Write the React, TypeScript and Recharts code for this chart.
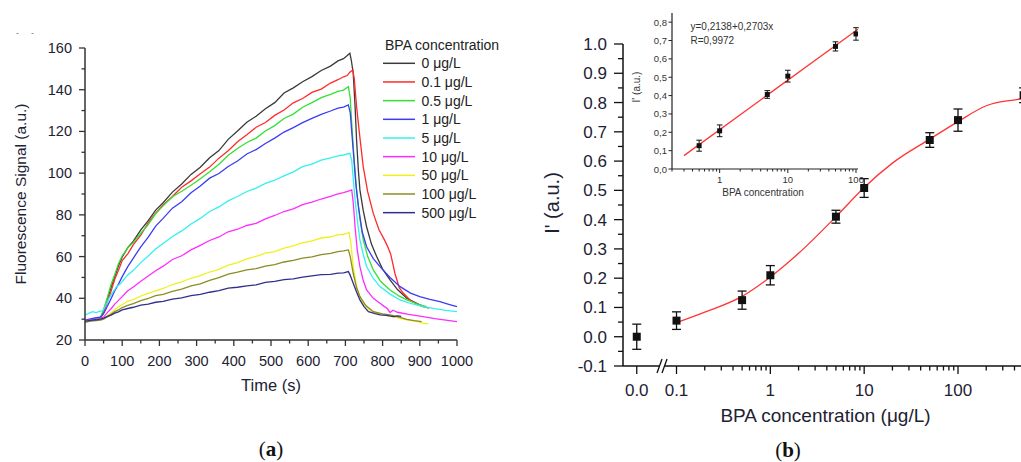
import React from 'react';
import { LineChart, Line, XAxis, YAxis, ComposedChart, Scatter, ErrorBar, ZAxis } from 'recharts';

const FONT = '"Liberation Sans", Arial, Helvetica, sans-serif';
const AXIS = '#333333';
const INK = '#1d2233';

// (a) fluorescence kinetics: [time (s), signal (a.u.)]
const S_0: [number, number][] = [[0,29.2],[15,29.6],[30,30.4],[42,30.6],[50,34],[60,39.5],[70,45.2],[80,50.4],[90,55.6],[100,59.8],[115,64.3],[130,67.4],[150,72.8],[170,77.2],[190,82.3],[210,85.8],[235,90.9],[260,94.8],[285,99.4],[310,102.8],[335,107.4],[360,110.8],[385,116.2],[410,120.2],[435,124.4],[460,127.3],[485,130.9],[510,133.8],[535,138.4],[560,140.9],[585,143.8],[610,146.3],[635,149.2],[660,151.3],[680,153.8],[695,154.9],[705,156.4],[712,157.5],[716,154],[721,147.9],[726,132],[730,116],[735,101],[739,92],[748,82],[757,74.3],[770,66],[784,60],[800,54],[820,48.8],[840,44.2],[865,40],[885,38.2],[909,36]];
const S_01: [number, number][] = [[0,28.8],[15,29.3],[30,29.9],[42,30.7],[50,33],[60,38.2],[70,43.4],[80,49.1],[90,53.4],[100,58.1],[115,61.3],[130,65.7],[150,70.3],[170,76.2],[190,80.8],[210,84.7],[235,88.8],[260,93.2],[285,96.3],[310,99.7],[335,102.9],[360,107.2],[385,110.7],[410,115],[435,118.4],[460,122],[485,124.3],[510,127.7],[535,130.3],[560,133.7],[585,135.8],[610,138.7],[635,140.3],[660,143.2],[680,144.8],[695,146.2],[705,146.8],[712,148.4],[720,149.5],[724,145],[730,132],[739,117],[748,103],[760,91],[775,80.7],[790,73],[805,68],[815,64.2],[822,61],[833,52],[845,45],[856,42.4],[875,39],[890,37.5],[909,36],[925,35.3]];
const S_05: [number, number][] = [[0,29],[15,29.5],[30,30.4],[42,31.1],[50,34.6],[60,40.3],[70,46.6],[80,51.4],[90,56.6],[100,60.4],[115,64.2],[130,66.8],[150,71.2],[170,75.3],[190,80.6],[210,84.3],[235,88.7],[260,91.3],[285,94.2],[310,97.3],[335,100.7],[360,104.3],[385,108.6],[410,111.8],[435,114.7],[460,116.8],[485,120.2],[510,122.8],[535,126.2],[560,128.3],[585,131.6],[610,133.8],[635,136.2],[660,137.8],[680,139.2],[695,139.8],[708,141.5],[713,136],[717,123.9],[723,108],[730,92],[739,78],[748,68],[760,60],[775,53.6],[795,48],[820,44],[845,41],[865,39.2],[890,37.5],[918,36]];
const S_1: [number, number][] = [[0,29.5],[15,30.1],[30,30.7],[42,31],[50,32.6],[60,36.2],[70,39.8],[80,43.6],[90,46.8],[100,50.4],[115,55.2],[130,59.3],[150,64.6],[170,69.3],[190,74.6],[210,78.3],[235,83.2],[260,86.3],[285,90.6],[310,93.8],[335,97.6],[360,99.8],[385,103.2],[410,105.8],[435,109.2],[460,111.3],[485,114.2],[510,116.8],[535,119.7],[560,121.8],[585,124.2],[610,126.3],[635,128.2],[660,129.8],[680,131.2],[695,131.7],[708,132.7],[713,129],[721,111],[728,95],[735,84],[745,72],[757,64.7],[775,59],[793,55.2],[820,50],[847,45.6],[875,42.5],[900,40.8],[927,39.5],[954,38.4],[980,37],[1000,36]];
const S_5: [number, number][] = [[0,32],[10,32.8],[20,33.6],[30,33.1],[40,33.8],[48,34],[55,36.4],[65,40.1],[75,43],[85,45.6],[95,46.9],[100,48],[115,51.2],[130,53.4],[150,57.1],[170,60.3],[190,63.6],[210,66.3],[235,69.6],[260,72.3],[285,75.6],[310,78.3],[335,81.6],[360,83.8],[385,86.7],[410,88.8],[435,91.2],[460,92.8],[485,95.1],[510,96.6],[535,98.7],[560,100.6],[585,103.1],[610,104.3],[635,106.2],[660,107.3],[680,108.3],[695,108.7],[712,109.5],[717,106],[726,87.1],[733,76],[739,68],[748,61],[757,55.2],[775,49.5],[793,45.6],[820,42],[847,39.2],[875,37.5],[909,36],[940,35],[970,34.2],[1000,33.6]];
const S_10: [number, number][] = [[0,29.2],[15,29.6],[30,29.9],[42,30.3],[50,31],[60,33.1],[70,35],[80,37.2],[90,39],[100,40.8],[115,43.6],[130,45.4],[150,48.2],[170,50.7],[190,53.2],[210,55.4],[235,58.6],[260,60.4],[285,63.2],[310,65.4],[335,67.7],[360,69.4],[385,71.9],[410,73.1],[435,74.9],[460,75.9],[485,78.1],[510,79.7],[535,81.6],[560,82.9],[585,84.9],[610,86.1],[635,87.6],[660,88.9],[680,90.1],[695,90.7],[710,91.5],[717,92],[721,86],[726,74.3],[732,63],[739,55.2],[748,48.5],[757,44],[775,40],[793,37.6],[805,36],[812,35.2],[820,33.2],[828,34.3],[840,33.3],[870,32.3],[909,31.2],[940,30.2],[970,29.5],[1000,28.8]];
const S_50: [number, number][] = [[0,29],[15,29.3],[30,29.4],[42,29.9],[50,30.3],[60,31.6],[70,33],[80,34.6],[90,35.9],[100,37],[115,38.6],[130,39.4],[150,41.1],[170,42.4],[190,43.6],[210,44.7],[235,46.6],[260,47.9],[285,49.6],[310,50.9],[335,52.6],[360,53.9],[385,55.9],[410,57.1],[435,58.9],[460,60.1],[485,61.6],[510,62.4],[535,64.1],[560,65.1],[585,66.6],[610,67.5],[635,68.9],[660,69.5],[680,70.4],[695,70.7],[710,71.5],[715,66],[721,55.2],[730,46],[739,40.8],[750,37],[766,34.4],[785,33],[802,32],[830,31],[865,29.6],[895,28.8],[910,28],[923,27.7]];
const S_100: [number, number][] = [[0,28.5],[15,29],[30,29.3],[42,29.5],[50,30],[60,31.1],[70,32.3],[80,33.6],[90,34.4],[100,35.5],[115,36.6],[130,37.4],[150,38.9],[170,39.9],[190,41.3],[210,41.9],[235,43.3],[260,44.4],[285,45.9],[310,46.9],[335,48.6],[360,49.9],[385,51.6],[410,52.5],[435,53.6],[460,54.2],[485,55.4],[510,56.1],[535,57.4],[560,58.2],[585,59.3],[610,59.9],[635,60.9],[660,61.5],[680,62.4],[695,62.7],[708,63.2],[713,60],[721,52],[730,45],[739,40.8],[755,36.5],[775,33.6],[800,32.5],[820,32],[845,31],[865,29.9],[885,29.3],[905,28.8]];
const S_500: [number, number][] = [[0,29],[15,29.4],[30,29.7],[42,30],[50,30.5],[60,31.3],[70,31.9],[80,32.9],[90,33.5],[100,34.4],[115,35.1],[130,35.7],[150,36.7],[170,37.2],[190,38.1],[210,38.5],[235,39.6],[260,40.2],[285,41.3],[310,41.9],[335,42.9],[360,43.7],[385,44.9],[410,45.3],[435,46],[460,46.4],[485,47.6],[510,48.1],[535,48.9],[560,49.3],[585,50.1],[610,50.7],[635,51.3],[660,51.5],[680,52.1],[695,52.2],[708,52.8],[713,51],[721,47.2],[730,43],[739,39.2],[750,36],[762,33.6],[780,32.6],[793,32],[810,31.8],[829,31.2],[840,31.6],[850,31.3]];

const CURVES = [S_0, S_01, S_05, S_1, S_5, S_10, S_50, S_100, S_500];
const LEGEND = ['0 μg/L', '0.1 μg/L', '0.5 μg/L', '1 μg/L', '5 μg/L', '10 μg/L', '50 μg/L', '100 μg/L', '500 μg/L'];
const COLORS = ['#3a3a3a', '#ff2a2a', '#33e033', '#3c3cf5', '#33f0f0', '#ff2cff', '#f0f020', '#8c8c22', '#30308c'];

const TIME_TICKS = [0, 50, 100, 150, 200, 250, 300, 350, 400, 450, 500, 550, 600, 650, 700, 750, 800, 850, 900, 950, 1000];
const SIGNAL_TICKS = [20, 30, 40, 50, 60, 70, 80, 90, 100, 110, 120, 130, 140, 150, 160];

// (b) calibration: BPA concentration (μg/L) vs I'
const CONC = [0, 0.1, 0.5, 1, 5, 10, 50, 100, 500];
const SIGNAL = [0.0, 0.055, 0.125, 0.21, 0.41, 0.508, 0.672, 0.74, 0.825];
const SIGNAL_ERR = [0.043, 0.03, 0.031, 0.033, 0.022, 0.032, 0.025, 0.038, 0.025];
const FIT_CONC = [0.1, 0.2, 0.5, 1, 2, 5, 10, 20, 50, 100, 200, 500, 750];
const FIT_SIGNAL = [0.048, 0.084, 0.138, 0.204, 0.285, 0.41, 0.51, 0.593, 0.675, 0.735, 0.789, 0.815, 0.83];

const CONC_MAJOR = [0.1, 1, 10, 100];
const CONC_MINOR = [0.2, 0.3, 0.4, 0.5, 0.6, 0.7, 0.8, 0.9, 2, 3, 4, 5, 6, 7, 8, 9, 20, 30, 40, 50, 60, 70, 80, 90, 200, 300, 400, 500, 600, 700];
const I_TICKS = [-0.1, 0, 0.1, 0.2, 0.3, 0.4, 0.5, 0.6, 0.7, 0.8, 0.9, 1.0];
const I_MINOR = [-0.05, 0.05, 0.15, 0.25, 0.35, 0.45, 0.55, 0.65, 0.75, 0.85, 0.95];

// inset: linear fit on log scale
const INSET_CONC = [0.5, 1, 5, 10, 50, 100];
const INSET_SIGNAL = [0.127, 0.208, 0.406, 0.506, 0.668, 0.736];
const INSET_ERR = [0.03, 0.032, 0.021, 0.032, 0.025, 0.034];
const INSET_FIT_CONC = [0.3, 107];
const INSET_FIT_SIGNAL = [0.073, 0.762];
const INSET_X_MAJOR = [1, 10, 100];
const INSET_X_MINOR = [0.2, 0.3, 0.4, 0.5, 0.6, 0.7, 0.8, 0.9, 2, 3, 4, 5, 6, 7, 8, 9, 20, 30, 40, 50, 60, 70, 80, 90];
const INSET_Y_TICKS = [0, 0.1, 0.2, 0.3, 0.4, 0.5, 0.6, 0.7, 0.8];

// broken log axis: where "0.0" and the "//" sit on the log scale
const X_MIN = 0.0269;
const X_MAX = 748;
const ZERO_SLOT = 0.0377;
const BREAK_SLOT = 0.0727;

const mainPts = CONC.map((c, i) => ({ x: c === 0 ? ZERO_SLOT : c, y: SIGNAL[i], err: SIGNAL_ERR[i] }));
const fitPts = FIT_CONC.map((c, i) => ({ x: c, y: FIT_SIGNAL[i] }));
const insetPts = INSET_CONC.map((c, i) => ({ x: c, y: INSET_SIGNAL[i], err: INSET_ERR[i] }));
const insetFit = INSET_FIT_CONC.map((c, i) => ({ x: c, y: INSET_FIT_SIGNAL[i] }));

const LeftXTick = ({ x, y, payload }: any) => {
  const v = payload.value;
  const major = v % 100 === 0;
  return (
    <g>
      <line x1={x} x2={x} y1={y} y2={y + (major ? 6 : 3.5)} stroke={AXIS} strokeWidth={1.3} />
      {major && <text x={x} y={y + 26} textAnchor="middle" fontSize={14.5} fontFamily={FONT} fill={INK}>{v}</text>}
    </g>
  );
};

const LeftYTick = ({ x, y, payload }: any) => {
  const v = payload.value;
  const major = v % 20 === 0;
  return (
    <g>
      <line x1={x} x2={x - (major ? 6 : 3.5)} y1={y} y2={y} stroke={AXIS} strokeWidth={1.3} />
      {major && <text x={x - 13} y={y + 5} textAnchor="end" fontSize={14.5} fontFamily={FONT} fill={INK}>{v}</text>}
    </g>
  );
};

const MainXTick = ({ x, y, payload }: any) => {
  const v = payload.value;
  if (v === BREAK_SLOT) {
    return (
      <g>
        <rect x={x - 4} y={y - 3} width={5} height={6} fill="#ffffff" />
        <line x1={x - 6.5} y1={y + 7} x2={x - 1.5} y2={y - 7} stroke="#111" strokeWidth={1.3} />
        <line x1={x - 1.5} y1={y + 7} x2={x + 3.5} y2={y - 7} stroke="#111" strokeWidth={1.3} />
      </g>
    );
  }
  const major = v === ZERO_SLOT || CONC_MAJOR.includes(v);
  const label = v === ZERO_SLOT ? '0.0' : String(v);
  return (
    <g>
      <line x1={x} x2={x} y1={y} y2={y + (major ? 8 : 4.5)} stroke="#111" strokeWidth={1.3} />
      {major && <text x={x} y={y + 30} textAnchor="middle" fontSize={17} fontFamily={FONT} fill={INK}>{label}</text>}
    </g>
  );
};

const MainYTick = ({ x, y, payload }: any) => {
  const v = payload.value;
  const major = I_TICKS.includes(v);
  return (
    <g>
      <line x1={x} x2={x - (major ? 9 : 5)} y1={y} y2={y} stroke="#111" strokeWidth={1.3} />
      {major && <text x={x - 16} y={y + 6} textAnchor="end" fontSize={17} fontFamily={FONT} fill={INK}>{v.toFixed(1)}</text>}
    </g>
  );
};

const InsetXTick = ({ x, y, payload }: any) => {
  const v = payload.value;
  const major = INSET_X_MAJOR.includes(v);
  return (
    <g>
      <line x1={x} x2={x} y1={y} y2={y + (major ? 4 : 2.5)} stroke="#222" strokeWidth={1} />
      {major && <text x={x} y={y + 14} textAnchor="middle" fontSize={9.5} fontFamily={FONT} fill="#333">{v}</text>}
    </g>
  );
};

const InsetYTick = ({ x, y, payload }: any) => {
  const v = payload.value;
  return (
    <g>
      <line x1={x} x2={x - 3.5} y1={y} y2={y} stroke="#222" strokeWidth={1} />
      <text x={x - 5} y={y + 3.5} textAnchor="end" fontSize={9.5} fontFamily={FONT} fill="#333">{v.toFixed(1).replace('.', ',')}</text>
    </g>
  );
};

const App: React.FC = () => {
  return (
    <div style={{ position: 'absolute', left: 0, top: 0, width: 1021, height: 462, overflow: 'hidden', background: '#fff' }}>
      {/* (a) */}
      <div style={{ position: 'absolute', left: 0, top: 0 }}>
        <LineChart width={480} height={462} margin={{ top: 48, right: 23, bottom: 0, left: 0 }}>
          <XAxis
            dataKey="t" type="number" domain={[0, 1000]} ticks={TIME_TICKS} interval={0}
            height={122} tickSize={0} tickMargin={0} tickLine={false}
            axisLine={{ stroke: AXIS, strokeWidth: 1.5 }} tick={(p: any) => <LeftXTick {...p} />}
          />
          <YAxis
            type="number" domain={[20, 160]} ticks={SIGNAL_TICKS} interval={0}
            width={85} tickSize={0} tickMargin={0} tickLine={false}
            axisLine={{ stroke: AXIS, strokeWidth: 1.5 }} tick={(p: any) => <LeftYTick {...p} />}
          />
          {CURVES.map((c, i) => (
            <Line
              key={LEGEND[i]}
              data={c.map(([t, v]) => ({ t, v }))}
              dataKey="v" type="linear" stroke={COLORS[i]} strokeWidth={1.3}
              dot={false} activeDot={false} isAnimationActive={false}
            />
          ))}
        </LineChart>
      </div>

      {/* (b) main */}
      <div style={{ position: 'absolute', left: 540, top: 0 }}>
        <ComposedChart width={500} height={462} margin={{ top: 44, right: 0, bottom: 0, left: 0 }}>
          <XAxis
            dataKey="x" type="number" scale="log" domain={[X_MIN, X_MAX]} allowDataOverflow
            ticks={[ZERO_SLOT, BREAK_SLOT, ...CONC_MAJOR, ...CONC_MINOR]} interval={0}
            height={96} tickSize={0} tickMargin={0} tickLine={false}
            axisLine={{ stroke: '#111', strokeWidth: 1.5 }} tick={(p: any) => <MainXTick {...p} />}
          />
          <YAxis
            dataKey="y" type="number" domain={[-0.1, 1.0]} allowDataOverflow
            ticks={[...I_TICKS, ...I_MINOR]} interval={0}
            width={83} tickSize={0} tickMargin={0} tickLine={false}
            axisLine={{ stroke: '#111', strokeWidth: 1.5 }} tick={(p: any) => <MainYTick {...p} />}
          />
          <ZAxis range={[64, 64]} />
          <Line data={fitPts} dataKey="y" type="monotone" stroke="#ff3535" strokeWidth={1.3} dot={false} activeDot={false} isAnimationActive={false} />
          <Scatter data={mainPts} shape="square" fill="#111" isAnimationActive={false}>
            <ErrorBar dataKey="err" direction="y" width={4.5} stroke="#111" strokeWidth={1.3} />
          </Scatter>
        </ComposedChart>
      </div>

      {/* (b) inset */}
      <div style={{ position: 'absolute', left: 600, top: 0 }}>
        <ComposedChart width={270} height={200} margin={{ top: 13, right: 12, bottom: 0, left: 0 }}>
          <XAxis
            dataKey="x" type="number" scale="log" domain={[0.2, 107]} allowDataOverflow
            ticks={[...INSET_X_MAJOR, ...INSET_X_MINOR]} interval={0}
            height={31} tickSize={0} tickMargin={0} tickLine={false}
            axisLine={{ stroke: '#222', strokeWidth: 1.2 }} tick={(p: any) => <InsetXTick {...p} />}
          />
          <YAxis
            dataKey="y" type="number" domain={[0, 0.85]} allowDataOverflow
            ticks={INSET_Y_TICKS} interval={0}
            width={72} tickSize={0} tickMargin={0} tickLine={false}
            axisLine={{ stroke: '#222', strokeWidth: 1.2 }} tick={(p: any) => <InsetYTick {...p} />}
          />
          <ZAxis range={[25, 25]} />
          <Line data={insetFit} dataKey="y" type="linear" stroke="#ff3535" strokeWidth={1.3} dot={false} activeDot={false} isAnimationActive={false} />
          <Scatter data={insetPts} shape="square" fill="#111" isAnimationActive={false}>
            <ErrorBar dataKey="err" direction="y" width={2.8} stroke="#111" strokeWidth={1} />
          </Scatter>
        </ComposedChart>
      </div>

      {/* titles, legend, panel letters */}
      <svg width={1021} height={462} style={{ position: 'absolute', left: 0, top: 0, pointerEvents: 'none' }} fontFamily={FONT}>
        <text x={16} y={36} fontSize={9} fill="#777">-</text>
        <text x={31} y={36} fontSize={9} fill="#777">-</text>

        <text transform="translate(26,194) rotate(-90)" textAnchor="middle" fontSize={15.5} fill={INK}>Fluorescence Signal (a.u.)</text>
        <text x={271} y={391} textAnchor="middle" fontSize={16.5} fill={INK}>Time (s)</text>

        <text x={385} y={50} fontSize={14} fill="#222">BPA concentration</text>
        {LEGEND.map((label, i) => {
          const ly = 63.3 + 18.67 * i;
          return (
            <g key={label}>
              <line x1={383} x2={415} y1={ly} y2={ly} stroke={COLORS[i]} strokeWidth={1.5} />
              <text x={421.5} y={ly + 5} fontSize={14} fill="#222">{label}</text>
            </g>
          );
        })}

        <text transform="translate(558.5,203) rotate(-90)" textAnchor="middle" fontSize={20} fill={INK}>I' (a.u.)</text>
        <text x={825.5} y={421.5} textAnchor="middle" fontSize={19} fill={INK}>BPA concentration (μg/L)</text>

        <text transform="translate(639.5,87) rotate(-90)" textAnchor="middle" fontSize={10} fill="#333">I' (a.u.)</text>
        <text x={763} y={196} textAnchor="middle" fontSize={10} fill="#333">BPA concentration</text>
        <text x={690.5} y={29.5} fontSize={10} fill="#333">y=0,2138+0,2703x</text>
        <text x={690.5} y={44} fontSize={10} fill="#333">R=0,9972</text>

        <text x={271} y={456} textAnchor="middle" fontSize={21} fontFamily='"Liberation Serif", "DejaVu Serif", serif' fill="#111">
          (<tspan fontWeight="bold">a</tspan>)
        </text>
        <text x={788} y={457} textAnchor="middle" fontSize={21} fontFamily='"Liberation Serif", "DejaVu Serif", serif' fill="#111">
          (<tspan fontWeight="bold">b</tspan>)
        </text>
      </svg>
    </div>
  );
};

export default App;
